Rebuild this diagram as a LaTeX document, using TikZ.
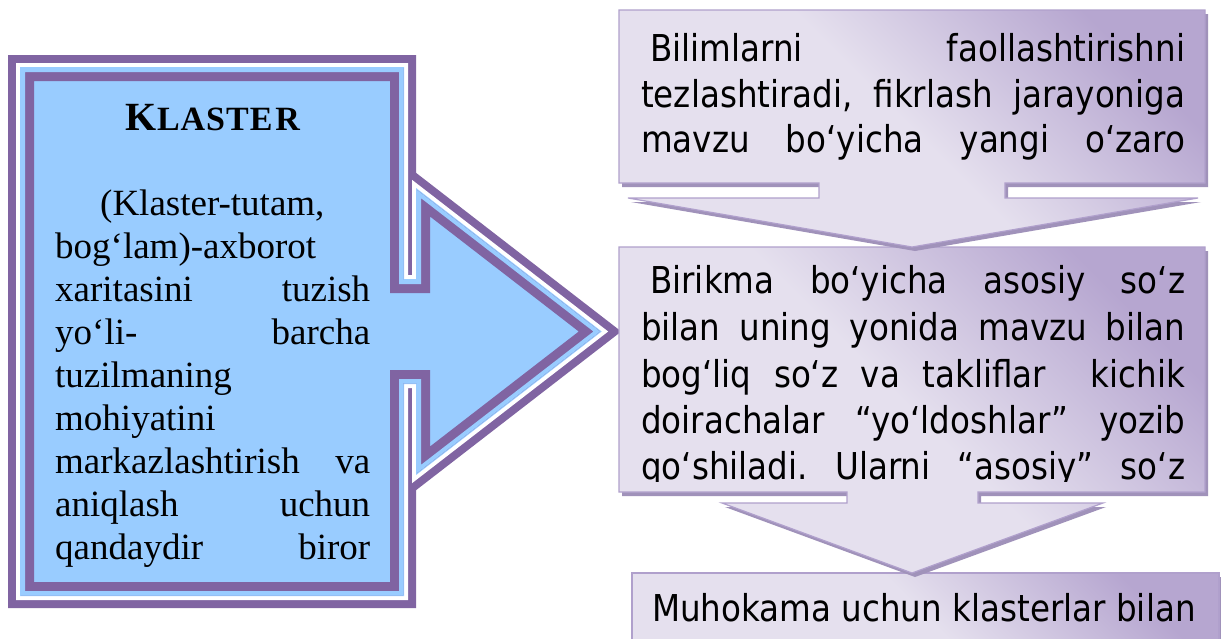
\documentclass[tikz,border=0pt]{standalone}
\usepackage{fontspec}
\setmainfont{Liberation Serif}
\newfontfamily\tahoma{DejaVu Sans}[FakeStretch=0.88]
\definecolor{klblue}{RGB}{153,204,255}
\definecolor{kpurple}{RGB}{128,100,162}
\definecolor{lavL}{RGB}{229,224,238}
\definecolor{lavD}{RGB}{182,166,208}
\definecolor{lavB}{RGB}{176,160,204}
\definecolor{lavS}{RGB}{160,146,186}
\tikzset{
  klpath/.style={insert path={(21,68) -- (403,68) -- (403,280) -- (417,280) -- (417,190) -- (600,331.5) -- (417,473) -- (417,383) -- (403,383) -- (403,595) -- (21,595) -- cycle}},
  coA/.style={insert path={(619,10) -- (1205,10) -- (1205,183) -- (1005,183) -- (1005,198) -- (1198,198) -- (912,247) -- (628,198) -- (819,198) -- (819,183) -- (619,183) -- cycle}},
  coB/.style={insert path={(619,247) -- (1205,247) -- (1205,492) -- (978,492) -- (978,503) -- (1103,503) -- (912,573) -- (722,503) -- (847,503) -- (847,492) -- (619,492) -- cycle}},
  coC/.style={insert path={(632,573) -- (1219,573) -- (1219,660) -- (632,660) -- cycle}},
  lavshade/.style={top color=lavD, bottom color=lavL, middle color=lavL, shading angle=-45},
  lavshadow/.style={fill=lavS, shift={(3,4)}},
  lavborder/.style={draw=lavB, line width=1.2pt},
  rline/.style={anchor=base west, inner sep=0pt, font=\tahoma\fontsize{37}{44}\selectfont},
  lline/.style={anchor=base west, inner sep=0pt, font=\fontsize{37}{43}\selectfont},
}
\begin{document}
\begin{tikzpicture}[x=1pt,y=-1pt,line join=miter]
\useasboundingbox (0,0) rectangle (1221,638);
\clip (0,0) rectangle (1221,638);
\fill[white] (0,0) rectangle (1221,638);

% left callout arrow: outer bands, then inner fill and inner bands
\draw[kpurple, line width=26pt, klpath];
\draw[white, line width=10pt, klpath];
\draw[klblue, line width=2pt, klpath];
\fill[klblue, klpath];
\begin{scope}
  \clip[klpath];
  \draw[kpurple, line width=26pt, klpath];
  \draw[klblue, line width=8pt, klpath];
\end{scope}

\node[anchor=base, inner sep=0pt, font=\bfseries] (kh) at (213,130)
  {{\fontsize{40}{40}\selectfont K}{\fontsize{34}{40}\selectfont L\kern1ptA\kern1ptS\kern1ptT\kern1ptE\kern3ptR}};
\node[lline] (l1) at (100,215) {(Klaster-tutam,};
\node[lline] (l2) at (55,258) {bog‘lam)-axborot};
\node[lline] (l3) at (55,301) {\makebox[315pt][l]{xaritasini\hfill tuzish}};
\node[lline] (l4) at (55,344) {\makebox[315pt][l]{yo‘li-\hfill barcha}};
\node[lline] (l5) at (55,387) {tuzilmaning};
\node[lline] (l6) at (55,430) {mohiyatini};
\node[lline] (l7) at (55,473) {\makebox[315pt][l]{markazlashtirish\hfill va}};
\node[lline] (l8) at (55,516) {\makebox[315pt][l]{aniqlash\hfill uchun}};
\node[lline] (l9) at (55,559) {\makebox[315pt][l]{qandaydir\hfill biror}};

% right boxes
\fill[lavshadow, coC];
\shade[lavshade, coC];
\draw[lavborder, coC];
\node[rline] (c1) at (652,621) {Muhokama uchun klasterlar bilan};

\fill[lavshadow, coB];
\shade[lavshade, coB];
\draw[lavborder, coB];
\begin{scope}
  \clip (620,248) rectangle (1204,481);
  \node[rline] (b1) at (641,293) {\makebox[544pt][l]{\hspace*{9pt}Birikma\hfill bo‘yicha\hfill asosiy\hfill so‘z}};
  \node[rline] (b2) at (641,340) {\makebox[544pt][l]{bilan\hfill uning\hfill yonida\hfill mavzu\hfill bilan}};
  \node[rline] (b3) at (641,387) {\makebox[544pt][l]{bog‘liq\hfill so‘z\hfill va\hfill takliflar\hfill\hfill kichik}};
  \node[rline] (b4) at (641,433) {\makebox[544pt][l]{doirachalar\hfill “yo‘ldoshlar”\hfill yozib}};
  \node[rline] (b5) at (641,479) {\makebox[544pt][l]{qo‘shiladi.\hfill Ularni\hfill “asosiy”\hfill so‘z}};
\end{scope}

\fill[lavshadow, coA];
\shade[lavshade, coA];
\draw[lavborder, coA];
\node[rline] (a1) at (641,61) {\makebox[544pt][l]{\hspace*{9pt}Bilimlarni\hfill faollashtirishni}};
\node[rline] (a2) at (641,107) {\makebox[544pt][l]{tezlashtiradi,\hfill fikrlash\hfill jarayoniga}};
\node[rline] (a3) at (641,152) {\makebox[544pt][l]{mavzu\hfill bo‘yicha\hfill yangi\hfill o‘zaro}};
\end{tikzpicture}
\end{document}
